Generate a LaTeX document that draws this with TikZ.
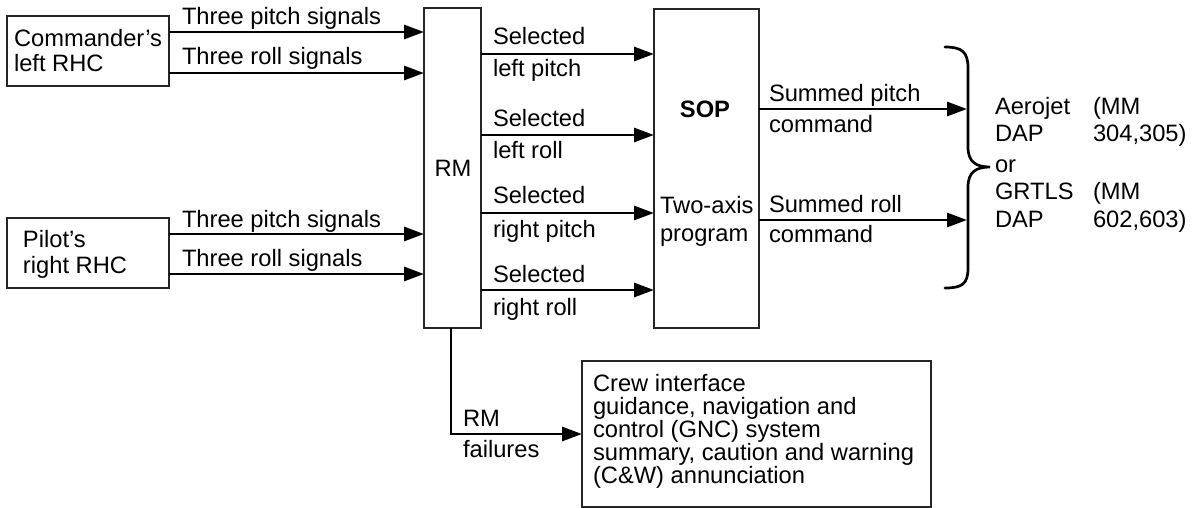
\documentclass[tikz,border=0pt]{standalone}
\usepackage{fontspec}
\setmainfont{Liberation Sans}
\usetikzlibrary{arrows.meta}
\begin{document}
\begin{tikzpicture}[x=1pt,y=-1pt,
  box/.style={draw=black!85, line width=1.3pt, inner sep=0pt, outer sep=0pt, anchor=north west},
  lbl/.style={anchor=base west, inner sep=0pt, outer sep=0pt, font=\fontsize{23.7}{27}\selectfont},
  clbl/.style={lbl, anchor=base},
  arr/.style={line width=2.9pt, -{Triangle[length=20pt,width=14pt]}},
  brace/.style={line width=2.7pt, line cap=round}
]
\useasboundingbox (0,0) rectangle (1197,508);

% boxes
\node[box, minimum width=162pt, minimum height=70pt] (cmd) at (7,16) {};
\node[box, minimum width=162pt, minimum height=70pt] (pil) at (7,218) {};
\node[box, minimum width=57pt, minimum height=320pt] (rm) at (424,8) {};
\node[box, minimum width=105pt, minimum height=319pt] (sop) at (654,9) {};
\node[box, minimum width=349pt, minimum height=146pt] (crew) at (582,361) {};

% box texts
\node[lbl] (cmdA) at (14,47) {Commander’s};
\node[lbl] (cmdB) at (14,72) {left RHC};
\node[lbl] (pilA) at (23,247) {Pilot’s};
\node[lbl] (pilB) at (23,273) {right RHC};
\node[clbl] (rmT) at (453,177) {RM};
\node[clbl] (sopT) at (705,118) {\bfseries SOP};
\node[lbl] (sopA) at (660,213) {Two-axis};
\node[lbl] (sopB) at (660,241) {program};
\node[lbl] (crA) at (593,391) {Crew interface};
\node[lbl] (crB) at (593,414) {guidance, navigation and};
\node[lbl] (crC) at (593,437) {control (GNC) system};
\node[lbl] (crD) at (593,460) {summary, caution and warning};
\node[lbl] (crE) at (593,483) {(C\&W) annunciation};

% inputs to RM
\draw[arr] (cmd.east |- 0,32) -- (rm.west |- 0,32);
\draw[arr] (cmd.east |- 0,73) -- (rm.west |- 0,73);
\draw[arr] (pil.east |- 0,234) -- (rm.west |- 0,234);
\draw[arr] (pil.east |- 0,274) -- (rm.west |- 0,274);
\node[lbl] (l1) at (182,25) {Three pitch signals};
\node[lbl] (l2) at (182,65) {Three roll signals};
\node[lbl] (l3) at (182,227) {Three pitch signals};
\node[lbl] (l4) at (182,266) {Three roll signals};

% RM to SOP
\draw[arr] (rm.east |- 0,54) -- (sop.west |- 0,54);
\draw[arr] (rm.east |- 0,135) -- (sop.west |- 0,135);
\draw[arr] (rm.east |- 0,213) -- (sop.west |- 0,213);
\draw[arr] (rm.east |- 0,290) -- (sop.west |- 0,290);
\node[lbl] (s1a) at (493,45) {Selected};
\node[lbl] (s1b) at (493,77) {left pitch};
\node[lbl] (s2a) at (493,127) {Selected};
\node[lbl] (s2b) at (493,158) {left roll};
\node[lbl] (s3a) at (493,204) {Selected};
\node[lbl] (s3b) at (493,237) {right pitch};
\node[lbl] (s4a) at (493,282) {Selected};
\node[lbl] (s4b) at (493,315) {right roll};

% SOP outputs
\coordinate (bp) at (967,109);
\coordinate (br) at (967,220);
\draw[arr] (sop.east |- bp) -- (bp);
\draw[arr] (sop.east |- br) -- (br);
\node[lbl] (o1a) at (769,102) {Summed pitch};
\node[lbl] (o1b) at (769,133) {command};
\node[lbl] (o2a) at (769,212) {Summed roll};
\node[lbl] (o2b) at (769,242) {command};

% brace
\draw[brace] (945,47) .. controls (962,47) and (968,52) .. (968,68) -- (968,147)
  .. controls (968,162) and (976,167) .. (990,167)
  .. controls (976,167) and (968,172) .. (968,187) -- (968,268)
  .. controls (968,284) and (962,288) .. (945,288);

% right texts
\node[lbl] (r1) at (995,115) {Aerojet};
\node[lbl] (r2) at (995,142) {DAP};
\node[lbl] (r3) at (995,172) {or};
\node[lbl] (r4) at (995,200) {GRTLS};
\node[lbl] (r5) at (995,227) {DAP};
\node[lbl] (m1) at (1093,115) {(MM};
\node[lbl] (m2) at (1093,142) {304,305)};
\node[lbl] (m3) at (1093,200) {(MM};
\node[lbl] (m4) at (1093,227) {602,603)};

% RM failures
\draw[arr] ([xshift=-1.5pt]rm.south) |- (crew.west |- 0,434);
\node[lbl] (f1) at (463,426) {RM};
\node[lbl] (f2) at (463,457) {failures};
\end{tikzpicture}
\end{document}
